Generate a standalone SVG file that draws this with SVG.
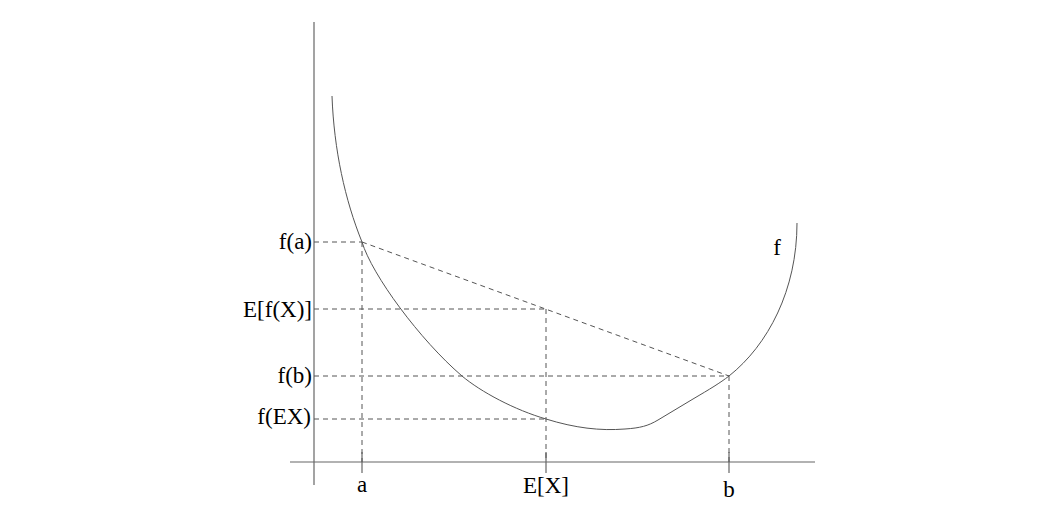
<svg xmlns="http://www.w3.org/2000/svg" width="1044" height="525" viewBox="0 0 1044 525">
<style>
.ax{stroke:#666;stroke-width:1.2;fill:none}
.dash{stroke:#555;stroke-width:1;stroke-dasharray:5,4;fill:none}
.curve{stroke:#555;stroke-width:1;fill:none}
.lbl{font-family:"Liberation Serif","Times New Roman",serif;font-size:23px;fill:#000}
</style>
<rect width="1044" height="525" fill="#fff"/>
<g id="axes">
<line class="ax" x1="314" y1="22" x2="314" y2="485"/>
<line class="ax" x1="290" y1="462" x2="815" y2="462"/>
<line class="ax" x1="362" y1="452" x2="362" y2="473"/>
<line class="ax" x1="546" y1="452" x2="546" y2="473"/>
<line class="ax" x1="729" y1="452" x2="729" y2="473"/>
</g>
<g id="connectors">
<line class="dash" x1="314" y1="242" x2="362" y2="242"/>
<line class="dash" x1="314" y1="309" x2="546" y2="309"/>
<line class="dash" x1="314" y1="376" x2="729" y2="376"/>
<line class="dash" x1="314" y1="419" x2="546" y2="419"/>
<line class="dash" x1="362" y1="242" x2="362" y2="462"/>
<line class="dash" x1="546" y1="309" x2="546" y2="462"/>
<line class="dash" x1="729" y1="376" x2="729" y2="462"/>
<line class="dash" x1="362" y1="242" x2="729" y2="376"/>
</g>
<g id="curve-f">
<path class="curve" d="M332,96 C334,150 345,200 362,242 C372,275 420,340 462,376 C481,392 515,410 546,419 C575,428 600,431 625,429 C640,428 648,426 658,420 L693,399 C710,389 720,383 729,376 C768,345 797,290 797,223"/>
<text class="lbl" x="777" y="255" text-anchor="middle">f</text>
</g>
<g id="labels-y">
<text class="lbl" x="312" y="249" text-anchor="end">f(a)</text>
<text class="lbl" x="312" y="317" text-anchor="end">E[f(X)]</text>
<text class="lbl" x="312" y="383" text-anchor="end">f(b)</text>
<text class="lbl" x="311" y="424" text-anchor="end">f(EX)</text>
</g>
<g id="labels-x">
<text class="lbl" x="362" y="492" text-anchor="middle">a</text>
<text class="lbl" x="546" y="493" text-anchor="middle">E[X]</text>
<text class="lbl" x="729" y="497" text-anchor="middle">b</text>
</g>
</svg>
